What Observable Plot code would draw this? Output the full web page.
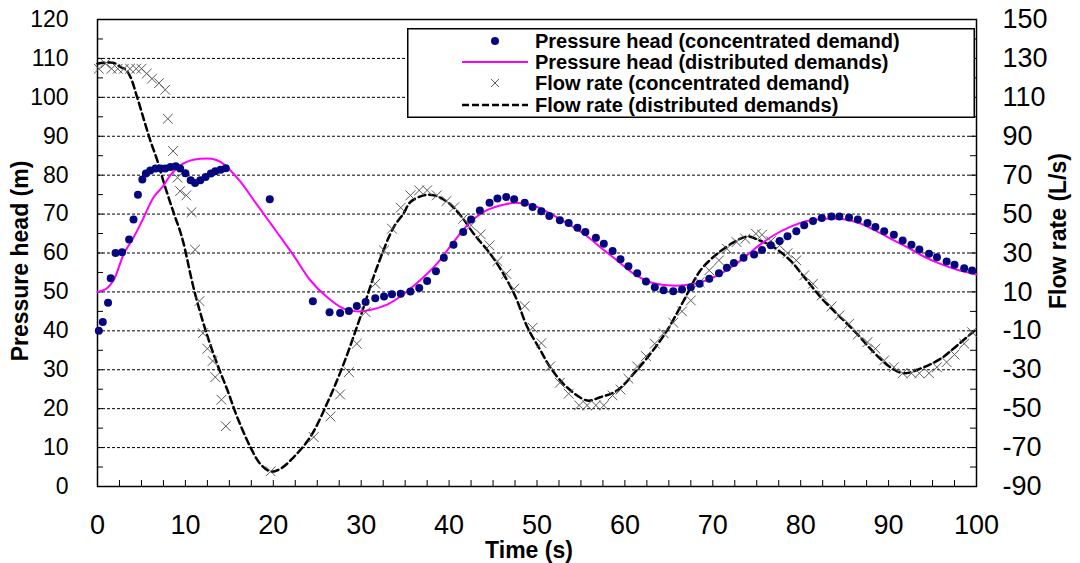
<!DOCTYPE html>
<html>
<head>
<meta charset="utf-8">
<script src="https://cdn.jsdelivr.net/npm/d3@7"></script>
<script src="https://cdn.jsdelivr.net/npm/@observablehq/plot@0.6"></script>
<style>
  html, body { margin: 0; padding: 0; background: white; }
  #wrap { position: relative; width: 1080px; height: 563px; font-family: "Liberation Sans", Arial, sans-serif; }
  #legend { position: absolute; left: 407px; top: 28px; }
</style>
</head>
<body>
<div id="wrap"><div id="chart"></div><div id="legend"></div></div>
<script>
// ---------- data ----------
// Pressure head (concentrated demand) — metres
const headConcT = [0.15, 0.6, 1.2, 1.5, 2.05, 2.8, 3.6, 4.1, 4.6, 5.1,
  5.5, 6.0, 6.6, 7.2, 7.7, 8.3, 8.9, 9.4, 10.0, 10.6,
  11.1, 11.7, 12.3, 12.9, 13.4, 14.0, 14.6, 19.6, 24.5, 26.4,
  27.6, 28.6, 29.5, 30.5, 31.6, 32.6, 33.5, 34.5, 35.6, 36.6,
  37.5, 38.5, 39.4, 40.5, 41.6, 42.5, 43.5, 44.6, 45.5, 46.5,
  47.4, 48.6, 49.5, 50.5, 51.4, 52.6, 53.6, 54.6, 55.5, 56.7,
  57.6, 58.6, 59.5, 60.4, 61.4, 62.4, 63.4, 64.4, 65.5, 66.5,
  67.5, 68.5, 69.6, 70.7, 71.6, 72.4, 73.5, 74.7, 75.6, 76.6,
  77.6, 78.5, 79.5, 80.4, 81.4, 82.4, 83.5, 84.4, 85.5, 86.5,
  87.6, 88.5, 89.5, 90.6, 91.6, 92.6, 93.5, 94.6, 95.5, 96.6,
  97.5, 98.6, 99.5];
const headConcV = [40, 42.3, 47.2, 53.5, 60, 60.2, 63.5, 68.6, 75, 78.9,
  80.4, 81.2, 81.7, 81.7, 81.7, 82.1, 82.3, 81.7, 80.5, 78.7,
  78, 78.7, 79.5, 80.4, 81, 81.4, 81.8, 73.8, 47.6, 44.8,
  44.6, 45.1, 46.4, 47.4, 48.4, 48.8, 49.4, 49.5, 50.1, 51,
  52.8, 55.3, 58.8, 62.1, 65.4, 68.6, 70.9, 72.9, 74, 74.4,
  73.8, 72.9, 71.8, 70.7, 69.5, 68.4, 67.7, 66.5, 65.4, 63.9,
  62.4, 60.5, 58.4, 56.6, 54.8, 52.7, 51.2, 50.4, 50.2, 50.6,
  51.2, 52.1, 53.4, 54.8, 56.2, 57.4, 58.8, 59.6, 60.8, 62,
  63.1, 64.3, 65.6, 67.1, 68.2, 69, 69.4, 69.4, 69.1, 68.6,
  67.7, 66.7, 65.6, 64.7, 63.2, 62.1, 60.9, 59.8, 58.9, 57.8,
  57, 56.1, 55.5];

// Pressure head (distributed demands) — metres
const headDistT = [0, 1.0, 1.85, 3.0, 4.1, 5.1, 6.4, 7.4, 8.3, 9.4,
  10.6, 11.7, 13.0, 14.0, 14.9, 16.3, 17.8, 19.3, 20.4, 22.3,
  24.2, 26.1, 28.0, 29.5, 31.1, 33.0, 34.8, 36.7, 38.6, 40.5,
  42.4, 44.3, 46.2, 47.6, 49.6, 51.5, 53.4, 55.3, 57.2, 59.1,
  61.0, 62.9, 64.8, 66.7, 68.6, 70.5, 72.4, 74.1, 75.0, 76.9,
  78.8, 80.7, 82.6, 84.5, 86.4, 88.3, 90.2, 92.1, 94.0, 95.9,
  97.8, 100];
const headDistV = [50, 50.8, 53.1, 59.8, 64, 68.4, 74.4, 77, 80, 82.5,
  83.8, 84.2, 84.2, 83.4, 81.7, 78.2, 73.5, 68.8, 65.4, 59.4,
  53, 48.7, 45.7, 45, 45.4, 46.8, 49.4, 53, 57.2, 62.8,
  67.9, 71, 72.4, 72.9, 72.2, 70.1, 67.7, 65, 61.5, 58.1,
  54.7, 52.5, 51.7, 51.7, 52.5, 54.2, 56.8, 59.8, 61.5, 64.5,
  66.7, 68.2, 68.8, 68.8, 67.9, 66, 63.7, 61.5, 59.1, 57.2,
  55.7, 54.5];

// Flow rate (concentrated demand) — L/s
const flowConcT = [0.15, 0.9, 1.6, 2.3, 3.0, 3.7, 4.4, 5.0, 5.6, 6.2,
  7.0, 7.7, 8.0, 8.6, 9.1, 9.4, 10.1, 10.7, 11.1, 11.6,
  12.0, 12.5, 13.1, 13.4, 14.1, 14.6, 19.7, 24.6, 26.5, 27.6,
  28.6, 29.5, 30.5, 31.6, 32.6, 33.5, 34.5, 35.6, 36.6, 37.5,
  38.6, 39.7, 40.6, 41.6, 42.5, 43.6, 44.6, 45.5, 46.5, 47.4,
  48.6, 49.5, 50.5, 51.5, 52.6, 53.6, 54.8, 55.7, 56.7, 57.6,
  58.6, 59.5, 60.4, 61.4, 62.4, 63.4, 64.4, 65.5, 66.5, 67.5,
  68.5, 69.6, 70.7, 71.6, 72.7, 73.7, 74.9, 75.6, 76.6, 77.6,
  78.5, 79.5, 80.4, 81.4, 82.4, 83.5, 84.4, 85.5, 86.5, 87.6,
  88.5, 89.5, 90.6, 91.6, 92.6, 93.5, 94.6, 95.5, 96.6, 97.5,
  98.6, 99.5];
const flowConcV = [124.7, 127.3, 124.7, 124.7, 124.7, 124.7, 124.7, 124.7, 122.2, 119.6,
  117.3, 113.9, 99, 82.4, 68.7, 61.8, 59.6, 51, 31.7, 5.3,
  -11.2, -19.2, -25.5, -33.8, -45.4, -59, -82.2, -64.6, -54, -42.7,
  -31.2, -16.6, -0.4, 14.2, 31.3, 42.5, 53.3, 59.6, 62.2, 62.2,
  59.6, 56.7, 53.6, 47.6, 44.2, 39.6, 33.9, 25.8, 19.3, 11.6,
  2.7, -8.4, -16.3, -28.3, -36.7, -42.3, -48.3, -48.3, -48.3, -48.3,
  -43.2, -40.2, -34.6, -28.3, -23, -16.6, -11.2, -5.8, 0, 5.6,
  15, 21.1, 26.2, 32.2, 35.6, 37.3, 39.9, 39.4, 36.1, 33.9,
  29.9, 26.2, 18.5, 14.2, 8.2, 2.5, -2.1, -6.4, -11.9, -15.8,
  -19.2, -25.2, -28.7, -31.8, -31.8, -31.8, -31.8, -28.7, -26.1, -22.2,
  -16.6, -10.7];

// Flow rate (distributed demands) — L/s
const flowDistT = [0, 1.85, 2.6, 3.2, 3.75, 4.5, 5.3, 6.0, 6.8, 7.7,
  8.7, 9.6, 11.0, 12.3, 13.6, 14.8, 15.9, 17.4, 18.5, 19.7,
  20.8, 22.3, 24.2, 26.1, 28.0, 29.9, 31.8, 33.7, 34.8, 35.6,
  37.1, 38.3, 39.8, 41.3, 42.8, 45.1, 47.4, 48.9, 50.4, 51.5,
  53.4, 55.7, 57.2, 59.1, 61.0, 62.9, 64.8, 66.7, 68.6, 70.5,
  72.4, 73.2, 74.1, 75.0, 76.9, 78.8, 80.7, 82.6, 84.5, 86.4,
  88.3, 90.2, 91.7, 94.0, 95.9, 97.8, 100];
const flowDistV = [127.3, 127.7, 125.6, 124.2, 120.4, 110.2, 98.2, 87.9, 77.6, 63.9,
  50.2, 38.2, 10.8, -9.8, -26.9, -40.7, -54.4, -69.8, -78.3, -82.3,
  -80.9, -75, -64.6, -47.5, -27, -2.9, 22.7, 43.3, 50.2, 56.2,
  59.6, 59.6, 56.2, 49.3, 39.9, 27, 9, -8.1, -20.1, -28.7,
  -39, -45.8, -44.1, -40.7, -32, -21.8, -9.8, 5.6, 21.1, 29.6,
  35.6, 37.5, 38.5, 37, 33.1, 26.2, 15.9, 5.6, -2.9, -11.5,
  -21, -28.7, -31.8, -28.7, -24.4, -17.5, -9];

// axes
const headTickLabels = [0, 10, 20, 30, 40, 50, 60, 70, 80, 90, 100, 110, 120];
const flowTickLabels = [-90, -70, -50, -30, -10, 10, 30, 50, 70, 90, 110, 130, 150];
const timeTickLabels = [0, 10, 20, 30, 40, 50, 60, 70, 80, 90, 100];
const gridHead = [10, 20, 30, 40, 50, 60, 70, 80, 90, 100, 110];
const headMinorTicks = d3.range(0, 120.1, 5);
const timeMinorTicks = d3.range(0, 100.1, 2.5);

const legendLabels = [
  "Pressure head (concentrated demand)",
  "Pressure head (distributed demands)",
  "Flow rate (concentrated demand)",
  "Flow rate (distributed demands)"
];

// ---------- build ----------
// flow axis (right) maps onto head axis (left): flow = 2*head - 90
const flowToHead = f => (f + 90) / 2;
const headToFlow = h => 2 * h - 90;

const zip = (ts, vs) => ts.map((t, i) => ({t, v: vs[i]}));
const headConc = zip(headConcT, headConcV);
const headDist = zip(headDistT, headDistV);
const flowConc = zip(flowConcT, flowConcV);
const flowDist = zip(flowDistT, flowDistV);

const W = 1080, H = 563;
const mL = 97, mR = 104, mT = 19, mB = 77;
const pw = W - mL - mR, ph = H - mT - mB;
const tick = 6;

const navy = "#06067f", magenta = "#ff00ff", gray = "#5a5a5a";

const chart = Plot.plot({
  width: W, height: H,
  marginLeft: mL, marginRight: mR, marginTop: mT, marginBottom: mB,
  x: {domain: [0, 100], label: null},
  y: {domain: [0, 120], label: null},
  style: {fontFamily: '"Liberation Sans", Arial, sans-serif', background: "white", color: "black", overflow: "visible"},
  marks: [
    Plot.ruleY(gridHead, {stroke: "black", strokeWidth: 1, strokeDasharray: "3,2"}),
    Plot.ruleY(headMinorTicks, {insetRight: pw - tick, stroke: "black", strokeWidth: 1}),
    Plot.ruleY(headMinorTicks, {insetLeft: pw - tick, stroke: "black", strokeWidth: 1}),
    Plot.ruleX(timeMinorTicks, {insetTop: ph - tick, stroke: "black", strokeWidth: 1}),
    Plot.frame({stroke: "black", strokeWidth: 1.5}),
    Plot.line(flowDist, {x: "t", y: d => flowToHead(d.v), stroke: "black", strokeWidth: 2.5, strokeDasharray: "7,4", curve: "catmull-rom"}),
    Plot.line(headDist, {x: "t", y: "v", stroke: magenta, strokeWidth: 2, curve: "catmull-rom"}),
    Plot.dot(flowConc, {x: "t", y: d => flowToHead(d.v), symbol: "times", r: 4.5, stroke: gray, strokeWidth: 1}),
    Plot.dot(headConc, {x: "t", y: "v", r: 4, fill: navy, stroke: "none"}),
    Plot.axisY({anchor: "left", ticks: headTickLabels, tickSize: 0, tickPadding: 29, fontSize: 23, label: null}),
    Plot.axisY({anchor: "right", ticks: flowTickLabels.map(flowToHead), tickSize: 0, tickPadding: 26, fontSize: 27,
      tickFormat: d => String(Math.round(headToFlow(d))), label: null}),
    Plot.axisX({anchor: "bottom", ticks: timeTickLabels, tickSize: 0, tickPadding: 28, fontSize: 27, label: null}),
    Plot.text(["Pressure head (m)"], {frameAnchor: "left", textAnchor: "middle", lineAnchor: "middle", dx: -77, dy: 8, rotate: -90, fontWeight: "bold", fontSize: 23}),
    Plot.text(["Flow rate (L/s)"], {frameAnchor: "right", textAnchor: "middle", lineAnchor: "middle", dx: 82, dy: -22, rotate: -90, fontWeight: "bold", fontSize: 23}),
    Plot.text(["Time (s)"], {frameAnchor: "bottom", textAnchor: "middle", lineAnchor: "middle", dx: -8, dy: 64, fontWeight: "bold", fontSize: 23})
  ]
});
document.getElementById("chart").appendChild(chart);

// ---------- legend ----------
const lw = 568, lh = 90;
const leg = d3.select("#legend").append("svg").attr("width", lw).attr("height", lh)
  .style("font-family", '"Liberation Sans", Arial, sans-serif');
leg.append("rect").attr("x", 0.75).attr("y", 0.75).attr("width", lw - 1.5).attr("height", lh - 1.5)
  .attr("fill", "white").attr("stroke", "black").attr("stroke-width", 1.5);
const rowY = [13, 34, 55, 77];
const sx = 88, lx0 = 55, lx1 = 121, tx = 128;
leg.append("circle").attr("cx", sx).attr("cy", rowY[0]).attr("r", 4).attr("fill", navy);
leg.append("line").attr("x1", lx0).attr("x2", lx1).attr("y1", rowY[1]).attr("y2", rowY[1]).attr("stroke", magenta).attr("stroke-width", 2);
leg.append("path").attr("d", `M${sx-4},${rowY[2]-4}L${sx+4},${rowY[2]+4}M${sx-4},${rowY[2]+4}L${sx+4},${rowY[2]-4}`).attr("stroke", gray).attr("stroke-width", 1);
leg.append("line").attr("x1", lx0).attr("x2", lx1).attr("y1", rowY[3]).attr("y2", rowY[3]).attr("stroke", "black").attr("stroke-width", 2.5).attr("stroke-dasharray", "7,3");
legendLabels.forEach((s, i) => {
  leg.append("text").attr("x", tx).attr("y", rowY[i]).attr("dy", "0.35em").attr("font-size", 20).attr("font-weight", "bold").text(s);
});
</script>
</body>
</html>
